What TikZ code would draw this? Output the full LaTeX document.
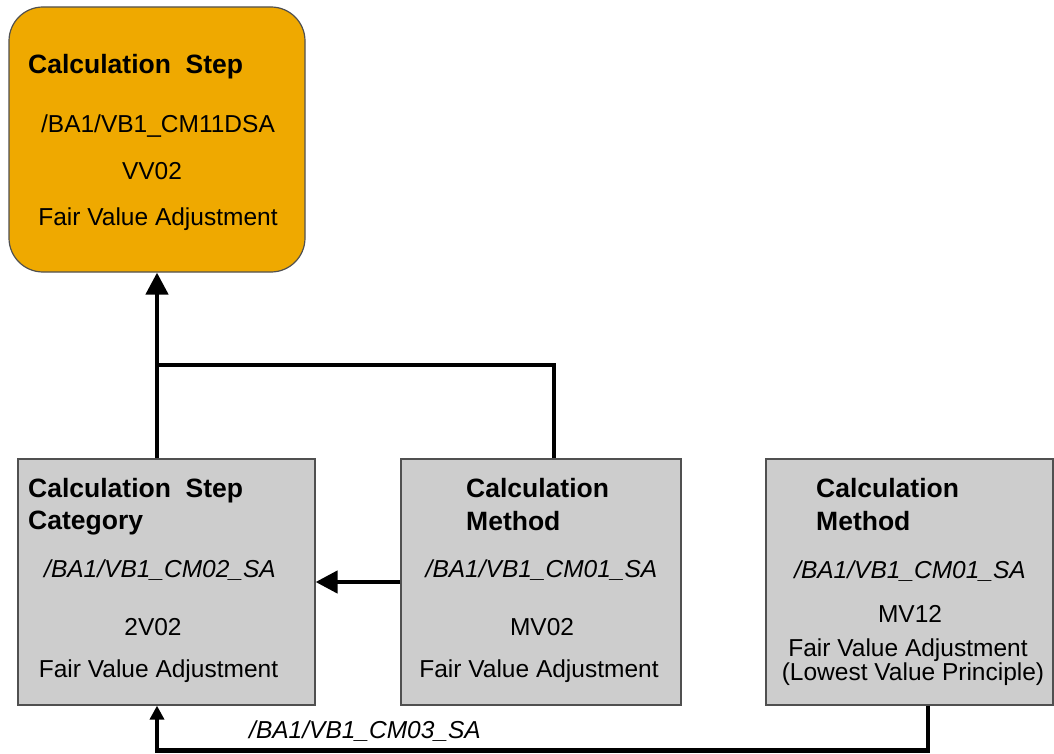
\documentclass[tikz,border=0pt]{standalone}
\usepackage{fontspec}
\setmainfont{Liberation Sans}
\usetikzlibrary{arrows.meta}

\definecolor{stepfill}{HTML}{EFA900}
\definecolor{boxfill}{HTML}{CDCDCD}
\definecolor{boxedge}{HTML}{505050}

\begin{document}
\begin{tikzpicture}[x=1pt, y=-1pt,
    % --- Styles ---
    step box/.style={draw=boxedge, line width=1.2pt, fill=stepfill, rounded corners=34pt,
                     minimum width=296pt, minimum height=265pt, inner sep=0pt},
    % Grey boxes of the lower row
    cat box/.style={draw=boxedge, line width=1.2pt, fill=boxfill, minimum height=246pt, inner sep=0pt},
    head node/.style={font=\fontsize{26.5}{30}\selectfont\bfseries, anchor=base west, inner sep=0pt},
    code node/.style={font=\fontsize{24.5}{28}\selectfont\itshape, anchor=base, inner sep=0pt},
    text node/.style={font=\fontsize{24.5}{28}\selectfont, anchor=base, inner sep=0pt},
    connector line/.style={line width=4.5pt},
    big arrow/.style={-{Triangle[length=22pt,width=22pt]}},
    small arrow/.style={-{Triangle[length=14pt,width=14pt]}}
]

% Fix the page to the picture size
\useasboundingbox (0,0) rectangle (1054,754);

%================BOXES================
\node[step box] (step) at (157,139.5) {};
\node[cat box, minimum width=297pt] (cat) at (166.5,582) {};
\node[cat box, minimum width=280pt] (meth) at (541,582) {};
\node[cat box, minimum width=287pt] (lvp) at (909.5,582) {};

%================TEXTS================
% --- Calculation Step ---
\node[head node] (stepHead) at (28,74) {Calculation~~Step};
\node[text node] (stepCode) at (158,133) {/BA1/VB1\_CM11DSA};
\node[text node] (stepId) at (152,180) {VV02};
\node[text node] (stepName) at (158,225) {Fair Value Adjustment};

% --- Calculation Step Category ---
\node[head node] (catHead) at (28,497) {Calculation~~Step};
\node[head node] (catHeadB) at (28,529) {Category};
\node[code node] (catCode) at (160,577) {/BA1/VB1\_CM02\_SA};
\node[text node] (catId) at (153,635) {2V02};
\node[text node] (catName) at (158.5,677) {Fair Value Adjustment};

% --- Calculation Method (MV02) ---
\node[head node] (methHead) at (466,497) {Calculation};
\node[head node] (methHeadB) at (466,530) {Method};
\node[code node] (methCode) at (541.5,577) {/BA1/VB1\_CM01\_SA};
\node[text node] (methId) at (542,635) {MV02};
\node[text node] (methName) at (539,677) {Fair Value Adjustment};

% --- Calculation Method (MV12) ---
\node[head node] (lvpHead) at (816,497) {Calculation};
\node[head node] (lvpHeadB) at (816,530) {Method};
\node[code node] (lvpCode) at (910,578) {/BA1/VB1\_CM01\_SA};
\node[text node] (lvpId) at (910,622) {MV12};
\node[text node] (lvpName) at (908,656) {Fair Value Adjustment};
\node[text node] (lvpNameB) at (913,680) {(Lowest Value Principle)};

%================CONNECTORS================
\coordinate (join) at (step.south |- 0,365);

\draw[connector line, big arrow] (cat.north -| step.south) -- (step.south);
\draw[connector line] ([xshift=13pt]meth.north) |- (join);
\draw[connector line, big arrow] (meth.west) -- (cat.east);
\draw[connector line, small arrow] ([xshift=18.5pt]lvp.south) -- ++(0,45) -| (cat.south -| step.south);

% Label on the bottom connector
\node[code node] (bottomCode) at (365,738) {/BA1/VB1\_CM03\_SA};

\end{tikzpicture}
\end{document}
